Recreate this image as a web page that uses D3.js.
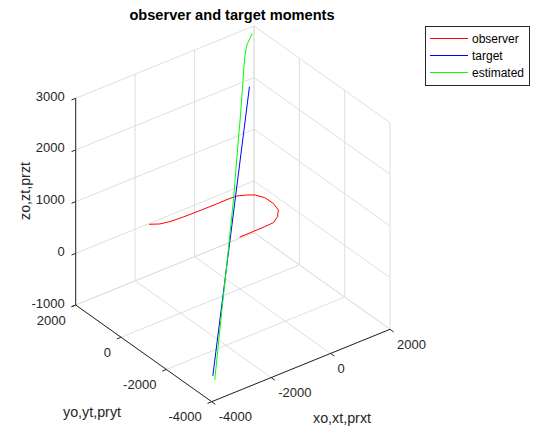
<!DOCTYPE html>
<html>
<head>
<meta charset="utf-8">
<script src="https://cdn.jsdelivr.net/npm/d3@7"></script>
<style>
  body { margin: 0; background: #fff; }
  text { font-family: "Liberation Sans", Arial, Helvetica, sans-serif; fill: #262626; }
</style>
</head>
<body>
<script>
// axis limits and ticks
var xDomain = [-4000, 2000];
var yDomain = [-4000, 2000];
var zDomain = [-1000, 3000];
var xTicks = [-4000, -2000, 0, 2000];
var yTicks = [-4000, -2000, 0, 2000];
var zTicks = [-1000, 0, 1000, 2000, 3000];

// observer path (flies at constant altitude)
var obsX = [-3110, -2870, -2580, -2150, -1610, -1050, -630, -380, -140, 40, 170, 180, 90, -130, -400, -700, -1080, -1560];
var obsY = [-70, -230, -300, -330, -345, -350, -345, -360, -480, -610, -880, -1230, -1580, -1830, -2000, -2020, -2025, -2030];
var obsZ = [1000, 1000, 1000, 1000, 1000, 1000, 1000, 1000, 1000, 1000, 1000, 1000, 1000, 1000, 1000, 1000, 1000, 1000];

// target path
var tgtX = [-3200, 70];
var tgtY = [-3000, -330];
var tgtZ = [-1000, 3000];

// estimated target path
var estX = [-3280, -2540, -1890, -1240, -720, -270, 370, 750, 1060, 1300, 1460, 1590, 1740];
var estY = [-3190, -2490, -1920, -1340, -840, -380, 360, 810, 1160, 1410, 1530, 1620, 1735];
var estZ = [-1000, -230, 600, 1430, 2120, 2550, 2750, 2850, 2920, 2960, 2980, 2990, 3000];

var seriesNames = ["observer", "target", "estimated"];
var seriesColors = ["#ff0000", "#0000ff", "#00ff00"];

var w = 533, h = 431;

//Create SVG element
var svg = d3.select("body")
            .append("svg")
            .attr("width", w)
            .attr("height", h);

// unit scales for each axis, then an oblique (orthographic) projection
var sx = d3.scaleLinear().domain(xDomain).range([0, 1]);
var sy = d3.scaleLinear().domain(yDomain).range([0, 1]);
var sz = d3.scaleLinear().domain(zDomain).range([0, 1]);

var origin = [211.7, 401.7];   // xmin, ymin, zmin corner
var ex = [178.3, -72.4];
var ey = [-136, -96.7];
var ez = [0, -206.7];

function project(x, y, z) {
    var u = sx(x), v = sy(y), t = sz(z);
    return [origin[0] + u * ex[0] + v * ey[0] + t * ez[0],
            origin[1] + u * ex[1] + v * ey[1] + t * ez[1]];
}

var line = d3.line();

function seg(a, b) { return line([project.apply(null, a), project.apply(null, b)]); }

var x0 = xDomain[0], x1 = xDomain[1];
var y0 = yDomain[0], y1 = yDomain[1];
var z0 = zDomain[0], z1 = zDomain[1];

// grid lines on floor and two back walls
var grid = svg.append("g")
    .attr("stroke", "#dfdfdf")
    .attr("stroke-width", 1)
    .attr("fill", "none");

xTicks.forEach(function(t) {
    grid.append("path").attr("d", seg([t, y0, z0], [t, y1, z0]));
    grid.append("path").attr("d", seg([t, y1, z0], [t, y1, z1]));
});
yTicks.forEach(function(t) {
    grid.append("path").attr("d", seg([x0, t, z0], [x1, t, z0]));
    grid.append("path").attr("d", seg([x1, t, z0], [x1, t, z1]));
});
zTicks.forEach(function(t) {
    grid.append("path").attr("d", seg([x0, y1, t], [x1, y1, t]));
    grid.append("path").attr("d", seg([x1, y0, t], [x1, y1, t]));
});

// axes
var axes = svg.append("g")
    .attr("stroke", "#262626")
    .attr("stroke-width", 1)
    .attr("fill", "none");

axes.append("path").attr("d", seg([x0, y0, z0], [x1, y0, z0]));
axes.append("path").attr("d", seg([x0, y0, z0], [x0, y1, z0]));
axes.append("path").attr("d", seg([x0, y1, z0], [x0, y1, z1]));

function unit(v) { var l = Math.hypot(v[0], v[1]); return [v[0] / l, v[1] / l]; }
var tickLen = 4.5;
var dx = unit([-ey[0], -ey[1]]);   // x ticks point away from y axis
var dy = unit([-ex[0], -ex[1]]);   // y and z ticks point away from x axis

var labels = svg.append("g").attr("font-size", "13px");

xTicks.forEach(function(t) {
    var p = project(t, y0, z0);
    axes.append("path").attr("d", line([p, [p[0] + dx[0] * tickLen, p[1] + dx[1] * tickLen]]));
    labels.append("text")
        .attr("x", p[0] + 7)
        .attr("y", p[1] + 15)
        .attr("dominant-baseline", "central")
        .attr("text-anchor", "start")
        .text(t);
});
yTicks.forEach(function(t) {
    var p = project(x0, t, z0);
    axes.append("path").attr("d", line([p, [p[0] + dy[0] * tickLen, p[1] + dy[1] * tickLen]]));
    labels.append("text")
        .attr("x", p[0] - 10)
        .attr("y", p[1] + 15)
        .attr("dominant-baseline", "central")
        .attr("text-anchor", "end")
        .text(t);
});
zTicks.forEach(function(t) {
    var p = project(x0, y1, t);
    axes.append("path").attr("d", line([p, [p[0] + dy[0] * tickLen, p[1] + dy[1] * tickLen]]));
    labels.append("text")
        .attr("x", p[0] - 11)
        .attr("y", p[1] - 2)
        .attr("dominant-baseline", "central")
        .attr("text-anchor", "end")
        .text(t);
});

// axis labels
svg.append("text")
    .attr("x", 342).attr("y", 418)
    .attr("font-size", "14.3px")
    .attr("text-anchor", "middle")
    .attr("dominant-baseline", "central")
    .text("xo,xt,prxt");

svg.append("text")
    .attr("x", 92).attr("y", 412)
    .attr("font-size", "14.3px")
    .attr("text-anchor", "middle")
    .attr("dominant-baseline", "central")
    .text("yo,yt,pryt");

svg.append("text")
    .attr("transform", "translate(25,191) rotate(-90)")
    .attr("font-size", "14.3px")
    .attr("text-anchor", "middle")
    .attr("dominant-baseline", "central")
    .text("zo,zt,przt");

// title
svg.append("text")
    .attr("x", 232).attr("y", 15)
    .attr("font-size", "14.6px")
    .attr("font-weight", "bold")
    .attr("text-anchor", "middle")
    .attr("dominant-baseline", "central")
    .style("fill", "#000")
    .text("observer and target moments");

// data lines
var series = [
    { xs: obsX, ys: obsY, zs: obsZ },
    { xs: tgtX, ys: tgtY, zs: tgtZ },
    { xs: estX, ys: estY, zs: estZ }
];

svg.append("g")
   .selectAll("path")
   .data(series)
   .enter()
   .append("path")
   .attr("fill", "none")
   .attr("stroke-width", 1)
   .attr("stroke", function(d, i) { return seriesColors[i]; })
   .attr("d", function(d) {
       var pts = d.xs.map(function(x, i) { return project(x, d.ys[i], d.zs[i]); });
       return line(pts);
   });

// legend
var legend = svg.append("g");
legend.append("rect")
    .attr("x", 425.5).attr("y", 26.5)
    .attr("width", 104).attr("height", 59)
    .attr("fill", "#fff")
    .attr("stroke", "#262626")
    .attr("stroke-width", 1);

var rows = legend.selectAll("g.row")
    .data(seriesNames)
    .enter()
    .append("g")
    .attr("class", "row")
    .attr("transform", function(d, i) { return "translate(0," + (38.5 + i * 17) + ")"; });

rows.append("line")
    .attr("x1", 430).attr("x2", 468)
    .attr("y1", 0).attr("y2", 0)
    .attr("stroke-width", 1)
    .attr("stroke", function(d, i) { return seriesColors[i]; });

rows.append("text")
    .attr("x", 472).attr("y", 0)
    .attr("font-size", "12px")
    .attr("dominant-baseline", "central")
    .style("fill", "#000")
    .text(function(d) { return d; });
</script>
</body>
</html>
